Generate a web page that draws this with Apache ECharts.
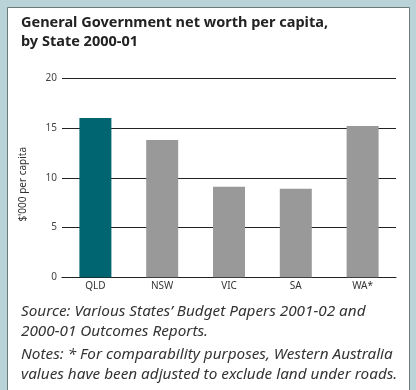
<!DOCTYPE html>
<html>
<head>
<meta charset="utf-8">
<script src="https://cdn.jsdelivr.net/npm/echarts@6/dist/echarts.min.js"></script>
<style>
html,body{margin:0;padding:0;background:#b9d3d8;}
#c{width:416px;height:390px;}
</style>
</head>
<body>
<div id="c"></div>
<script>
var categories = ['QLD', 'NSW', 'VIC', 'SA', 'WA*'];
var values = [16.0, 13.8, 9.1, 8.9, 15.2];
var yTicks = [0, 5, 10, 15, 20];
var highlight = 'QLD';

var chart = echarts.init(document.getElementById('c'), null, {renderer: 'canvas'});
var titleFont = '"Noto Sans", "Open Sans", sans-serif';
chart.setOption({
  backgroundColor: '#b9d3d8',
  animation: false,
  grid: {left: 62, right: 20, top: 78.3, bottom: 112.7},
  graphic: [
    {type: 'rect', z: -10, shape: {x: 7.5, y: 7.5, width: 402, height: 400},
     style: {fill: '#ffffff', stroke: '#6f7a7c', lineWidth: 1}},
    {type: 'text', left: 21, top: 14.2,
     style: {text: 'General Government net worth per capita,\nby State 2000-01', fill: '#222222',
       font: 'bold 14.5px ' + titleFont, lineHeight: 18.3}},
    {type: 'text', left: 21, top: 302.3,
     style: {text: 'Source: Various States\u2019 Budget Papers 2001-02 and\n2000-01 Outcomes Reports.', fill: '#333333',
       font: 'italic 15.3px ' + titleFont, lineHeight: 19.5}},
    {type: 'text', left: 21, top: 345.3,
     style: {text: 'Notes: * For comparability purposes, Western Australia\nvalues have been adjusted to exclude land under roads.', fill: '#333333',
       font: 'italic 15.3px ' + titleFont, lineHeight: 19.5}}
  ],
  xAxis: {
    type: 'category',
    data: categories,
    axisLine: {show: true, lineStyle: {color: '#222222', width: 1}},
    axisTick: {show: false},
    axisLabel: {color: '#333333', fontSize: 10, margin: 4, fontFamily: titleFont}
  },
  yAxis: {
    type: 'value',
    min: yTicks[0],
    max: yTicks[yTicks.length - 1],
    interval: yTicks[1] - yTicks[0],
    name: "$'000 per capita",
    nameLocation: 'middle',
    nameRotate: 90,
    nameGap: 34,
    nameTextStyle: {color: '#333333', fontSize: 10, fontFamily: titleFont, padding: [0, 13, 0, 0]},
    axisLine: {show: false},
    axisTick: {show: false},
    axisLabel: {color: '#444444', fontSize: 10, margin: 5, fontFamily: titleFont},
    splitLine: {lineStyle: {color: '#222222', width: 1}}
  },
  series: [{
    type: 'bar',
    data: values.map(function (v, i) {
      return {value: v, itemStyle: {color: categories[i] === highlight ? '#006570' : '#999999'}};
    }),
    barWidth: 32
  }]
});
</script>
</body>
</html>
